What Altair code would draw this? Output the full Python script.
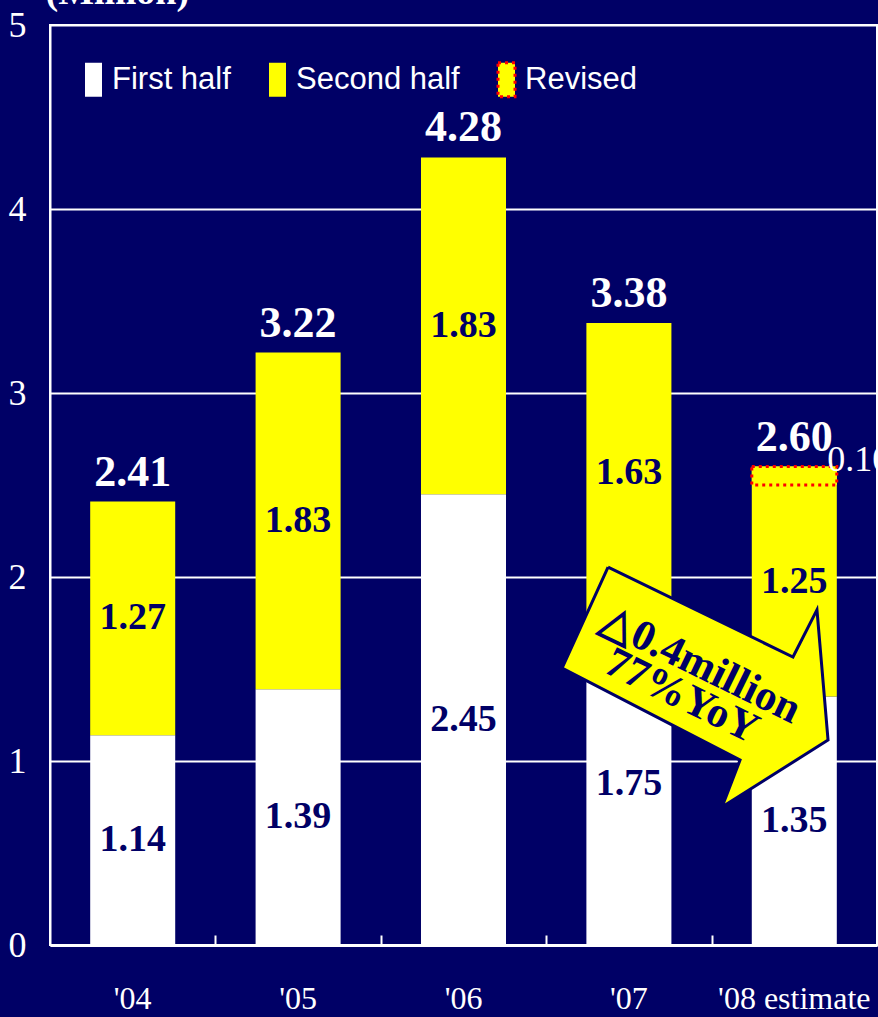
import altair as alt
import pandas as pd

years = ["'04", "'05", "'06", "'07", "'08 estimate"]
first_half = [1.14, 1.39, 2.45, 1.75, 1.35]
second_half = [1.27, 1.83, 1.83, 1.63, 1.25]
totals = [2.41, 3.22, 4.28, 3.38, 2.60]
revised = [0.0, 0.0, 0.0, 0.0, 0.10]

# annotation arrow outline (x in category units 0..5, y in millions)
arrow_x = [3.374, 4.492, 4.637, 4.704, 4.063, 4.172, 3.096, 3.374]
arrow_y = [2.054, 1.565, 1.821, 1.114, 0.750, 1.005, 1.505, 2.054]
arrow_text = ["\u25b30.4million", "77%YoY"]
arrow_text_x = [3.936, 3.821]
arrow_text_y = [1.522, 1.353]

NAVY = "#000066"
YELLOW = "#ffff00"
SERIF = "Liberation Serif"
SEGS = ["First half", "Second half", "Revised"]

rows = []
for yr, f, s, t, r in zip(years, first_half, second_half, totals, revised):
    rows.append({"year": yr, "seg": "First half", "start": 0.0, "end": f, "val": f})
    rows.append({"year": yr, "seg": "Second half", "start": f, "end": f + s, "val": s})
    if r > 0:
        rows.append({"year": yr, "seg": "Revised", "start": t - r, "end": t, "val": r})
seg_df = pd.DataFrame(rows)
inner_df = seg_df[seg_df.seg != "Revised"]
rev_df = seg_df[seg_df.seg == "Revised"]
tot_df = pd.DataFrame({"year": years, "total": totals})
arrow_df = pd.DataFrame({"i": list(range(len(arrow_x))), "ax": arrow_x, "ay": arrow_y})
atext_df = pd.DataFrame({"t": arrow_text, "tx": arrow_text_x, "ty": arrow_text_y})

xscale = alt.Scale(type="band", domain=years, paddingInner=0.486, paddingOuter=0.243)
yscale = alt.Scale(domain=[0, 5], nice=False, zero=True)
qscale = alt.Scale(domain=[0, 5], nice=False, zero=False)
yaxis = alt.Axis(values=[0, 1, 2, 3, 4, 5], grid=True, gridColor="white", gridWidth=2,
                 gridOpacity=1, domain=True, domainColor="white", domainWidth=2,
                 ticks=False, labelColor="white", labelFont=SERIF, labelFontSize=36,
                 labelPadding=24, format="d",
                 title="(Million)", titleAngle=0, titleX=-5, titleY=-22,
                 titleAlign="left", titleBaseline="alphabetic", titleColor="white",
                 titleFont=SERIF, titleFontSize=38, titleFontWeight="bold")
xaxis = alt.Axis(title=None, orient="bottom", domain=True, domainColor="white",
                 domainWidth=3, ticks=False, grid=False, labelColor="white",
                 labelFont=SERIF, labelFontSize=32, labelPadding=38, labelAngle=0)
tickaxis = alt.Axis(orient="bottom", offset=-10, values=[1, 2, 3, 4], domain=False,
                    labels=False, ticks=True, tickSize=10, tickColor="white",
                    tickWidth=2, grid=False, title=None)

X = alt.X("year:N", scale=xscale, axis=xaxis, sort=years)
Xn = alt.X("year:N", scale=xscale, sort=years)

legend = alt.Legend(orient="none", legendX=25, legendY=36,
                    direction="horizontal", title=None,
                    symbolType="M-0.5,-1H0.5V1H-0.5Z",
                    symbolSize=1156, symbolOpacity=1, symbolStrokeWidth=3,
                    labelFont="Liberation Sans", labelFontSize=31, labelColor="white",
                    labelLimit=400, columnPadding=28, labelOffset=0)

bars = alt.Chart(seg_df).mark_bar(opacity=1, strokeWidth=3).encode(
    x=X,
    y=alt.Y("start:Q", scale=yscale, axis=yaxis),
    y2="end:Q",
    color=alt.Color("seg:N", scale=alt.Scale(domain=SEGS, range=["white", YELLOW, YELLOW]),
                    legend=legend),
    stroke=alt.Stroke("seg:N", scale=alt.Scale(domain=SEGS,
                                               range=["transparent", "transparent", "red"]),
                      legend=legend),
    strokeDash=alt.StrokeDash("seg:N", scale=alt.Scale(domain=SEGS,
                                                       range=[[1, 0], [1, 0], [3, 4]]),
                              legend=legend),
)

inner = alt.Chart(inner_df).transform_calculate(mid="(datum.start + datum.end) / 2").mark_text(
    font=SERIF, fontSize=38, fontWeight="bold", color=NAVY, baseline="middle").encode(
    x=Xn, y=alt.Y("mid:Q", scale=yscale), text=alt.Text("val:Q", format=".2f"))

tot = alt.Chart(tot_df).mark_text(font=SERIF, fontSize=44, fontWeight="bold", color="white",
                                  baseline="alphabetic", dy=-16).encode(
    x=Xn, y=alt.Y("total:Q", scale=yscale), text=alt.Text("total:Q", format=".2f"))

revlab = alt.Chart(rev_df).mark_text(font=SERIF, fontSize=36, color="white", align="left",
                                     baseline="middle", dx=33, dy=-7).encode(
    x=Xn, y=alt.Y("end:Q", scale=yscale), text=alt.Text("val:Q", format=".2f"))

main = alt.layer(bars, inner, tot, revlab)

arrow = alt.Chart(arrow_df).mark_line(fill=YELLOW, stroke=NAVY, strokeWidth=3,
                                      interpolate="linear").encode(
    x=alt.X("ax:Q", scale=qscale, axis=tickaxis),
    y=alt.Y("ay:Q", scale=yscale),
    order=alt.Order("i:Q"))

atext = alt.Chart(atext_df).mark_text(font=SERIF, fontSize=43, fontWeight="bold", color=NAVY,
                                      angle=26, baseline="middle", align="center").encode(
    x=alt.X("tx:Q", scale=qscale),
    y=alt.Y("ty:Q", scale=yscale),
    text="t:N")

arrow_layer = alt.layer(arrow, atext)

chart = alt.layer(main, arrow_layer).resolve_scale(x="independent").resolve_axis(
    x="independent").properties(
    width=827, height=920,
    padding={"left": 50, "top": 25, "right": 1, "bottom": 72},
    autosize=alt.AutoSizeParams(type="none"),
    background=NAVY,
).configure_view(stroke="white", strokeWidth=2)

chart.save("out.html", embed_options={"renderer": "svg", "actions": False})
